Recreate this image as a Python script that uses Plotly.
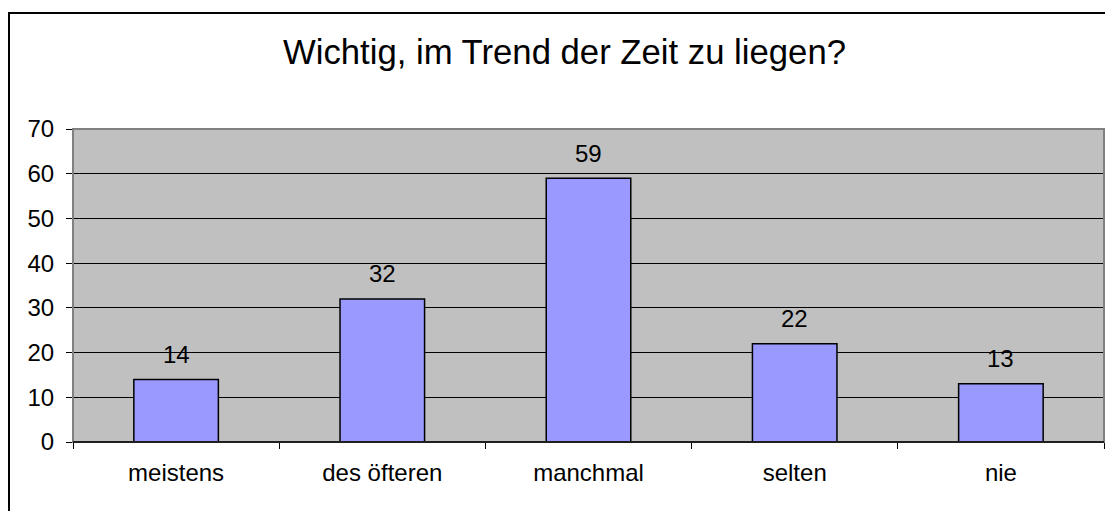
import plotly.graph_objects as go

categories = ['meistens', 'des öfteren', 'manchmal', 'selten', 'nie']
values = [14, 32, 59, 22, 13]

# the page body adds 8px margin, so the figure is slightly smaller than the window
W, H = 1105, 503
L, R, T, B = 65, 9, 121, 69
pw, ph = W - L - R, H - T - B

fig = go.Figure()
fig.add_trace(
	go.Bar(
		x = categories,
		y = values,
		width = 0.41,
		marker = dict(color = '#9999FF', line = dict(color = 'black', width = 1.5)),
		cliponaxis = False,
		hoverinfo = 'x+y',
	)
)
for c, v in zip(categories, values):
	fig.add_annotation(
		x = c, y = v, text = str(v),
		showarrow = False,
		yanchor = 'middle',
		yshift = 25,
		font = dict(size = 24, color = 'black'),
	)
fig.update_layout(
	width = W,
	height = H,
	margin = dict(l = L, r = R, t = T, b = B),
	paper_bgcolor = 'white',
	plot_bgcolor = '#C0C0C0',
	font = dict(family = 'Liberation Sans, Arial, sans-serif', size = 24, color = 'black'),
	title = dict(
		text = 'Wichtig, im Trend der Zeit zu liegen?',
		font = dict(size = 34.7),
		x = 0.5 + 4/W,
		xanchor = 'center',
		y = 1 - 44/H,
		yanchor = 'middle',
	),
	showlegend = False,
)
fig.update_xaxes(
	showline = True,
	linecolor = 'black',
	linewidth = 1,
	ticks = 'outside',
	tickson = 'boundaries',
	ticklen = 6,
	tickcolor = 'black',
	ticklabelstandoff = 9,
	showgrid = False,
)
fig.update_yaxes(
	range = [0, 70],
	dtick = 10,
	showline = True,
	linecolor = '#808080',
	linewidth = 1,
	ticks = 'outside',
	ticklen = 6,
	tickcolor = 'black',
	ticklabelstandoff = 7,
	showgrid = True,
	gridcolor = 'black',
	gridwidth = 1,
	zeroline = False,
)
# grey frame round the plot area, black base line
fig.add_shape(type = 'rect', xref = 'paper', yref = 'paper', x0 = 0, y0 = 0, x1 = 1, y1 = 1,
	line = dict(color = '#808080', width = 2), layer = 'above')
fig.add_shape(type = 'line', xref = 'paper', yref = 'paper', x0 = 0, y0 = 0, x1 = 1, y1 = 0,
	line = dict(color = 'black', width = 1.5), layer = 'above')
# outer chart border (right and bottom edges fall outside the window)
fig.add_shape(type = 'rect', xref = 'paper', yref = 'paper',
	x0 = (1 - L)/pw, y0 = -0.5, x1 = 1.2, y1 = 1 + (T - 5)/ph,
	line = dict(color = 'black', width = 2))
fig.write_html("out.html")
